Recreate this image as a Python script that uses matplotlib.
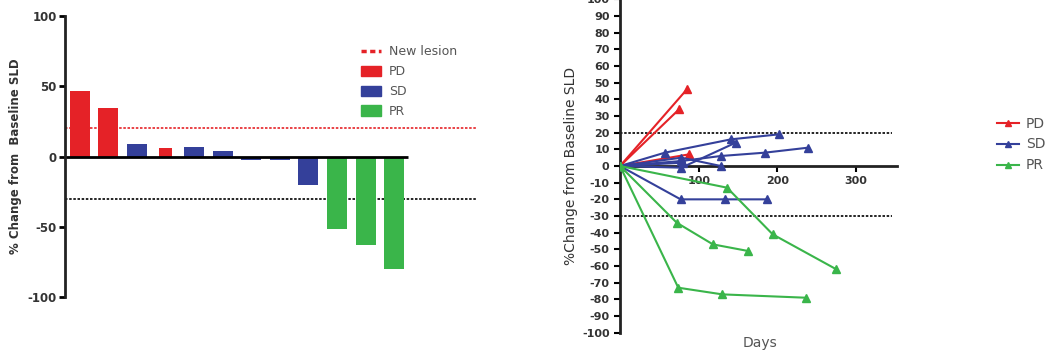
import matplotlib.pyplot as plt
from matplotlib.patches import Patch
from matplotlib.lines import Line2D

plt.rcParams["axes.unicode_minus"] = False

# waterfall data (best % change per patient)
bar_values = [47, 34.5, 8.6, 6.4, 7, 4.3, -2.5, -2.5, -20, -51.7, -63, -79.8]
bar_groups = ["PD", "PD", "SD", "PD", "SD", "SD", "SD", "SD", "SD", "PR", "PR", "PR"]
bar_widths = [0.7, 0.7, 0.7, 0.45, 0.7, 0.7, 0.7, 0.7, 0.7, 0.7, 0.7, 0.7]

# spider data: (days, % change) per patient
pd_days = [[0, 85], [0, 75], [0, 88]]
pd_vals = [[0, 46], [0, 34], [0, 7]]
sd_days = [[0, 57, 141, 202], [0, 78, 128, 184, 239], [0, 78, 147], [0, 78, 128],
           [0, 77, 133, 187], [0, 80]]
sd_vals = [[0, 8, 16, 19], [0, 3, 6, 8, 11], [0, -1, 14], [0, 5, 0],
           [0, -20, -20, -20], [0, 2]]
pr_days = [[0, 136, 194, 275], [0, 72, 118, 163], [0, 74, 130, 236]]
pr_vals = [[0, -13, -41, -62], [0, -34, -47, -51], [0, -73, -77, -79]]

colors = {"PD": "#e52227", "SD": "#34409a", "PR": "#3ab54a"}
text_col = "#333333"

fig = plt.figure(figsize=(10.47, 3.57), dpi=100)

# ---- left: waterfall ----
ax1 = fig.add_axes([0.0621, 0.168, 0.3935, 0.787])
for i, v in enumerate(bar_values):
    ax1.bar(i, v, width=bar_widths[i], color=colors[bar_groups[i]], zorder=2)
ax1.hlines(0, -0.5, len(bar_values) - 0.5, color="black", lw=2, zorder=3)
ax1.axhline(20, color="#e52227", ls=(0, (1.5, 1)), lw=1.2, zorder=1)
ax1.axhline(-30, color="black", ls=(0, (1.5, 1)), lw=1.2, zorder=1)
ax1.set_xlim(-0.52, 13.9)
ax1.set_ylim(-100, 100)
for s in ["top", "right", "bottom"]:
    ax1.spines[s].set_visible(False)
ax1.spines["left"].set_linewidth(2)
ax1.spines["left"].set_color("#222222")
ax1.set_xticks([])
ax1.set_yticks([-100, -50, 0, 50, 100])
ax1.tick_params(axis="y", length=4, width=2, labelsize=8.5, labelcolor=text_col, pad=2)
for t in ax1.get_yticklabels():
    t.set_fontweight("bold")
ax1.set_ylabel("% Change from  Baseline SLD", fontsize=8.5, fontweight="bold",
               color=text_col, labelpad=4)
handles = [Line2D([], [], color="#e52227", ls=(0, (1.5, 1)), lw=2.5),
           Patch(color=colors["PD"]), Patch(color=colors["SD"]), Patch(color=colors["PR"])]
ax1.legend(handles, ["New lesion", "PD", "SD", "PR"], frameon=False, fontsize=9,
           loc="upper left", bbox_to_anchor=(350 / 1047, 1 - 34 / 357),
           bbox_transform=fig.transFigure, handlelength=1.6, handleheight=0.9,
           labelspacing=0.55, handletextpad=0.6, labelcolor="#555555")

# ---- right: spider plot ----
ax2 = fig.add_axes([0.5922, 0.068, 0.2646, 0.934])
for dd, vv in zip(pd_days, pd_vals):
    ax2.plot(dd, vv, color=colors["PD"], marker="^", ms=6, lw=1.5, zorder=3)
for dd, vv in zip(sd_days, sd_vals):
    ax2.plot(dd, vv, color=colors["SD"], marker="^", ms=6, lw=1.5, zorder=3)
for dd, vv in zip(pr_days, pr_vals):
    ax2.plot(dd, vv, color=colors["PR"], marker="^", ms=6, lw=1.5, zorder=3)
ax2.hlines([20, -30], 0, 345, color="black", ls=(0, (1.5, 1)), lw=1.2, zorder=1)
ax2.set_xlim(0, 352)
ax2.set_ylim(-100, 100)
ax2.spines["top"].set_visible(False)
ax2.spines["right"].set_visible(False)
ax2.spines["bottom"].set_position(("data", 0))
ax2.spines["bottom"].set_linewidth(2)
ax2.spines["left"].set_linewidth(2)
ax2.spines["left"].set_color("#222222")
ax2.spines["bottom"].set_color("#222222")
ax2.set_xticks([100, 200, 300])
ax2.set_yticks(range(-100, 101, 10))
ax2.tick_params(axis="both", length=4, width=1.5, labelsize=8, labelcolor=text_col)
for t in ax2.get_yticklabels() + ax2.get_xticklabels():
    t.set_fontweight("bold")
ax2.set_ylabel("%Change from Baseline SLD", fontsize=10, color=text_col, labelpad=3)
fig.text(760 / 1047, 1 - 343 / 357, "Days", fontsize=10, color="#555555",
         ha="center", va="center")
h2 = [Line2D([], [], color=colors[k], marker="^", ms=5, lw=1.5) for k in ["PD", "SD", "PR"]]
ax2.legend(h2, ["PD", "SD", "PR"], frameon=False, fontsize=10, loc="upper left",
           bbox_to_anchor=(984 / 1047, 1 - 104 / 357), bbox_transform=fig.transFigure,
           handlelength=1.6, labelspacing=0.5, handletextpad=0.5, labelcolor="#555555")

fig.savefig("out.png", dpi=100)
